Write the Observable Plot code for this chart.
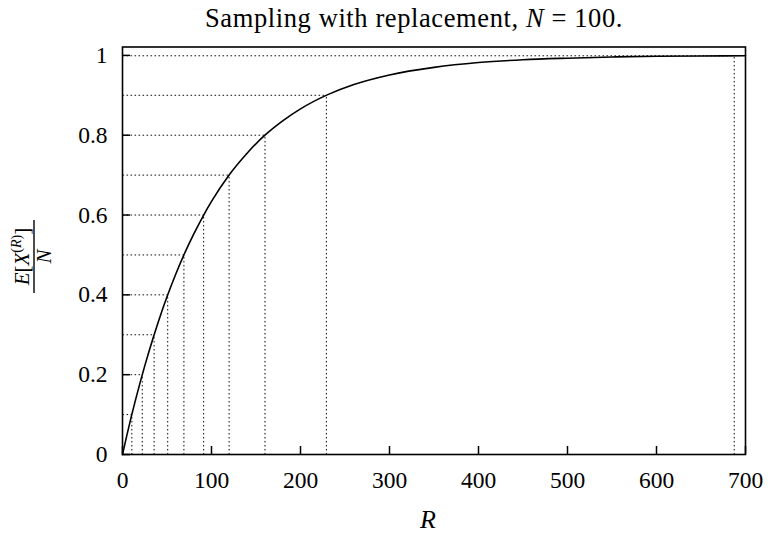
<!DOCTYPE html>
<html>
<head>
<meta charset="utf-8">
<script src="https://cdn.jsdelivr.net/npm/d3@7"></script>
<script src="https://cdn.jsdelivr.net/npm/@observablehq/plot@0.6"></script>
<style>
  html, body { margin: 0; padding: 0; background: #fff; }
  #chart svg { display: block; }
  #chart svg text { font-family: "Liberation Serif", "DejaVu Serif", serif !important; }
</style>
</head>
<body>
<div id="chart"></div>
<script>
// ---- data ----
const titleText = "Sampling with replacement, ";
const xTicks = [0, 100, 200, 300, 400, 500, 600, 700];
const yTicks = [0, 0.2, 0.4, 0.6, 0.8, 1];
const xDomain = [0, 700];
const yDomain = [0, 1.021];

// curve E[X^(R)]/N versus R
const curveR = [0, 5, 10, 15, 20, 25, 30, 40, 50, 60, 70, 80, 90, 100, 120, 140, 160, 180, 200, 230, 260, 300, 350, 400, 450, 500, 550, 600, 650, 700];
const curveY = [0, 0.049, 0.096, 0.140, 0.182, 0.222, 0.260, 0.331, 0.395, 0.453, 0.505, 0.552, 0.595, 0.634, 0.701, 0.755, 0.800, 0.836, 0.866, 0.901, 0.927, 0.951, 0.970, 0.982, 0.989, 0.993, 0.996, 0.998, 0.9986, 0.9991];

// dotted guide levels and the R where the curve reaches them
const guideP = [0.1, 0.2, 0.3, 0.4, 0.5, 0.6, 0.7, 0.8, 0.9, 0.999];
const guideR = [10.5, 22.2, 35.5, 50.8, 69.0, 91.2, 119.8, 160.1, 229.1, 687.3];

// ---- build ----
const W = 768, H = 537;
const mL = 122, mR = 23, mT = 46.5, mB = 83;
const plotW = W - mL - mR, plotH = H - mT - mB;
const tickLen = 8;
const serif = "'Liberation Serif', 'DejaVu Serif', serif";

const curve = curveR.map((r, i) => ({r, y: curveY[i]}));
const guides = guideP.map((p, i) => ({p, r: guideR[i]}));

const dotted = {stroke: "#111", strokeWidth: 1, strokeDasharray: "1.6,2.4"};

const svg = Plot.plot({
  width: W,
  height: H,
  marginLeft: mL,
  marginRight: mR,
  marginTop: mT,
  marginBottom: mB,
  style: {fontFamily: serif, fontSize: "23px", color: "#000", background: "#fff"},
  x: {domain: xDomain, ticks: xTicks, tickSize: 0, tickPadding: 17, label: null, tickFormat: d3.format("d")},
  y: {domain: yDomain, ticks: yTicks, tickSize: 0, tickPadding: 15, label: null, tickFormat: d => String(d)},
  marks: [
    Plot.link(guides, {x1: d => xDomain[0], x2: "r", y1: "p", y2: "p", ...dotted}),
    Plot.link(guides, {x1: "r", x2: "r", y1: d => yDomain[0], y2: "p", ...dotted}),
    Plot.tickX(xTicks, {x: d => d, insetTop: plotH - tickLen, stroke: "#000", strokeWidth: 1.5}),
    Plot.tickY(yTicks, {y: d => d, insetRight: plotW - tickLen, stroke: "#000", strokeWidth: 1.5}),
    Plot.line(curve, {x: "r", y: "y", curve: "monotone-x", stroke: "#000", strokeWidth: 1.6}),
    Plot.frame({stroke: "#000", strokeWidth: 1.6})
  ]
});

const s = d3.select(svg);
s.selectAll("text").style("font-size", "23.5px");

// title
const t = s.append("text")
  .attr("x", 414).attr("y", 27)
  .attr("text-anchor", "middle")
  .style("font-size", "26.5px")
  .style("letter-spacing", "0.6px")
  .attr("fill", "#000");
t.append("tspan").text(titleText);
t.append("tspan").attr("font-style", "italic").text("N");
t.append("tspan").text(" = 100.");

// x label
s.append("text")
  .attr("x", 428).attr("y", 528)
  .attr("text-anchor", "middle")
  .style("font-size", "26px")
  .attr("font-style", "italic")
  .attr("fill", "#000")
  .text("R");

// y label: fraction E[X^(R)] / N, rotated
const g = s.append("g").attr("transform", "translate(34,256.5) rotate(-90)");
const num = g.append("text")
  .attr("x", 0).attr("y", -5)
  .attr("text-anchor", "middle")
  .style("font-size", "21px")
  .attr("fill", "#000");
num.append("tspan").attr("font-style", "italic").text("E");
num.append("tspan").text("[");
num.append("tspan").attr("font-style", "italic").text("X");
num.append("tspan").style("font-size", "14px").attr("dy", -8).text("(");
num.append("tspan").style("font-size", "14px").attr("font-style", "italic").text("R");
num.append("tspan").style("font-size", "14px").text(")");
num.append("tspan").attr("dy", 8).text("]");
g.append("line")
  .attr("x1", -36.5).attr("x2", 36.5)
  .attr("y1", 0).attr("y2", 0)
  .attr("stroke", "#000").attr("stroke-width", 1.4);
g.append("text")
  .attr("x", 0).attr("y", 17)
  .attr("text-anchor", "middle")
  .style("font-size", "21px")
  .attr("font-style", "italic")
  .attr("fill", "#000")
  .text("N");

document.getElementById("chart").appendChild(svg);
</script>
</body>
</html>
